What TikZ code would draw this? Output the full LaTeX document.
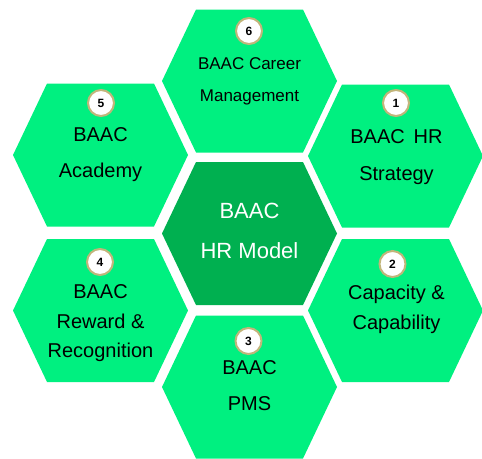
\documentclass[tikz,border=0pt]{standalone}
\usepackage{fontspec}
\setmainfont{Liberation Sans}
\usetikzlibrary{calc}
\definecolor{LightGreen}{HTML}{00F080}
\definecolor{DarkGreen}{HTML}{00B050}
\definecolor{DarkKhaki}{HTML}{C2B57A}
\tikzset{
  badge/.style={circle,draw=DarkKhaki,line width=2pt,fill=white,
    minimum size=26pt,inner sep=0pt,font=\fontsize{12}{12}\selectfont\bfseries},
  label/.style={align=center,text=black}
}

\begin{document}
\begin{tikzpicture}[x=1pt,y=-1pt]
  \useasboundingbox (0,0) rectangle (482,458);
  \clip (0,0) rectangle (482,458);

  \coordinate (Hub)   at (249.5,233.5);
  \coordinate (Hone)  at (395.5,156);
  \coordinate (Htwo)  at (395.5,310.5);
  \coordinate (Hthree) at (249.5,387);
  \coordinate (Hfour) at (100.5,310.5);
  \coordinate (Hfive) at (100.5,155);
  \coordinate (Hsix)  at (249.5,81);

  % the honeycomb
  \foreach \h/\col in {Hub/DarkGreen,Hone/LightGreen,Htwo/LightGreen,%
      Hthree/LightGreen,Hfour/LightGreen,Hfive/LightGreen,Hsix/LightGreen}{%
    \fill[\col] ($(\h)+(-87.5,0)$) -- ++(34,-71.5) -- ++(107,0)
      -- ++(34,71.5) -- ++(-34,71.5) -- ++(-107,0) -- cycle;
  }

  \node [label,text=white,font=\fontsize{22}{40}\selectfont] (Thub)
    at (249.5,231.2) {BAAC\\HR Model};
  \node [label,font=\fontsize{20}{37}\selectfont] (Tone)
    at (396.5,157.4) {BAAC\, HR\\Strategy};
  \node [label,font=\fontsize{20}{30}\selectfont] (Ttwo)
    at (396.5,308.9) {Capacity \&\\Capability};
  \node [label,font=\fontsize{20}{36}\selectfont] (Tthree)
    at (249.5,385.9) {BAAC\\PMS};
  \node [label,font=\fontsize{20}{29.5}\selectfont] (Tfour)
    at (100.5,323.4) {BAAC\\Reward \&\\Recognition};
  \node [label,font=\fontsize{20}{36}\selectfont] (Tfive)
    at (100.5,154.9) {BAAC\\Academy};
  \node [label,font=\fontsize{17}{32}\selectfont] (Tsix)
    at (249.5,81.6) {BAAC Career\\Management};

  % numbered badges
  \foreach \n/\name/\x/\y in {1/Bone/396/103,2/Btwo/392.5/264,3/Bthree/248.5/341,%
      4/Bfour/100/262,5/Bfive/101/103,6/Bsix/249/31}{%
    \node [badge] (\name) at (\x,\y) {\n};
  }
\end{tikzpicture}
\end{document}
